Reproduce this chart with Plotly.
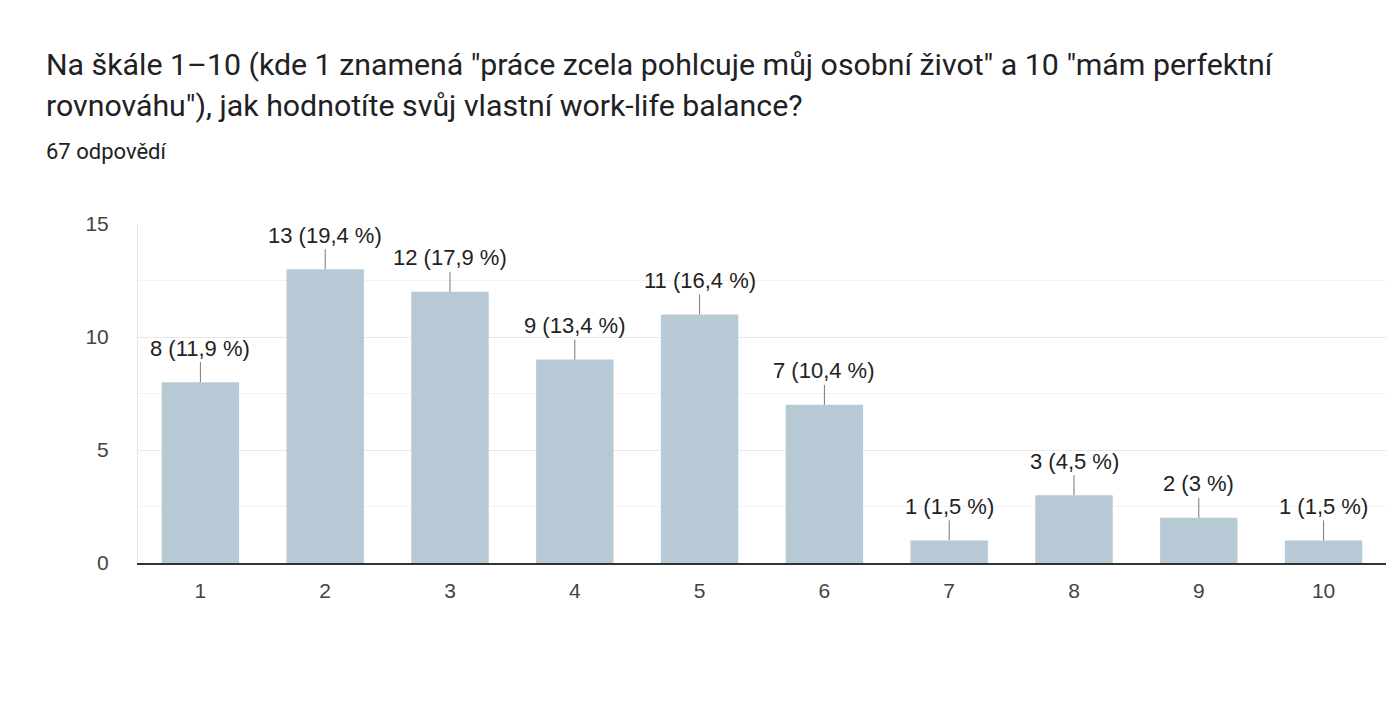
import plotly.graph_objects as go

# --- data ---
categories = ["1", "2", "3", "4", "5", "6", "7", "8", "9", "10"]
counts = [8, 13, 12, 9, 11, 7, 1, 3, 2, 1]
percent_labels = ["11,9", "19,4", "17,9", "13,4", "16,4", "10,4", "1,5", "4,5", "3", "1,5"]
y_ticks = [0, 5, 10, 15]

title_line1 = 'Na škále 1–10 (kde 1 znamená "práce zcela pohlcuje můj osobní život" a 10 "mám perfektní'
title_line2 = 'rovnováhu"), jak hodnotíte svůj vlastní work-life balance?'
subtitle = "67 odpovědí"

W, H = 1386, 704
L, R, T, B = 138, 0, 224, 141
plot_w = W - L - R
plot_h = H - T - B

def px_x(px):
    return (px - L) / plot_w

def px_y(py):
    return (H - B - py) / plot_h

chart_font = "Liberation Sans, Arial, sans-serif"

fig = go.Figure()
fig.add_trace(go.Bar(
    x=categories, y=counts,
    marker=dict(color="#b7c9d4", line=dict(width=0)),
    width=0.62,
    hoverinfo="skip",
))

# value labels with short leader lines (x given as category index)
annots = []
for i, (v, p) in enumerate(zip(counts, percent_labels)):
    annots.append(dict(
        x=i, y=v, xref="x", yref="y",
        text=f"{v} ({p} %)",
        showarrow=True, arrowhead=0, arrowwidth=1, arrowcolor="#777777",
        ax=0, ay=-34, standoff=0,
        font=dict(family=chart_font, size=22, color="#222222"),
    ))

# title block
annots.append(dict(x=px_x(44), y=px_y(64), xref="paper", yref="paper",
                   xanchor="left", yanchor="middle", showarrow=False,
                   text=title_line1, font=dict(family="Roboto", size=30.3, color="#202124")))
annots.append(dict(x=px_x(44), y=px_y(105), xref="paper", yref="paper",
                   xanchor="left", yanchor="middle", showarrow=False,
                   text=title_line2, font=dict(family="Roboto", size=30.3, color="#202124")))
annots.append(dict(x=px_x(44), y=px_y(151), xref="paper", yref="paper",
                   xanchor="left", yanchor="middle", showarrow=False,
                   text=subtitle, font=dict(family="Roboto", size=22, color="#202124")))

fig.update_layout(
    width=W, height=H,
    margin=dict(l=L, r=R, t=T, b=B, pad=0),
    plot_bgcolor="white", paper_bgcolor="white",
    showlegend=False,
    annotations=annots,
    font=dict(family=chart_font),
)
fig.update_xaxes(
    type="category",
    showgrid=False, showline=True, linecolor="#333333", linewidth=2,
    ticks="", ticklabelstandoff=8,
    tickfont=dict(size=21, color="#444444"),
    range=[-0.5, 9.5],
)
fig.update_yaxes(
    range=[0, 15], tickvals=y_ticks,
    showgrid=True, gridcolor="#e8e8e8", gridwidth=1,
    minor=dict(dtick=2.5, showgrid=True, gridcolor="#f2f2f2", gridwidth=1),
    zeroline=False, showline=True, linecolor="#e8e8e8", linewidth=1,
    ticks="", ticklabelstandoff=24,
    tickfont=dict(size=21, color="#444444"),
)

fig.write_html("out.html", config={"displayModeBar": False},
               post_script="document.body.style.margin='0';")
